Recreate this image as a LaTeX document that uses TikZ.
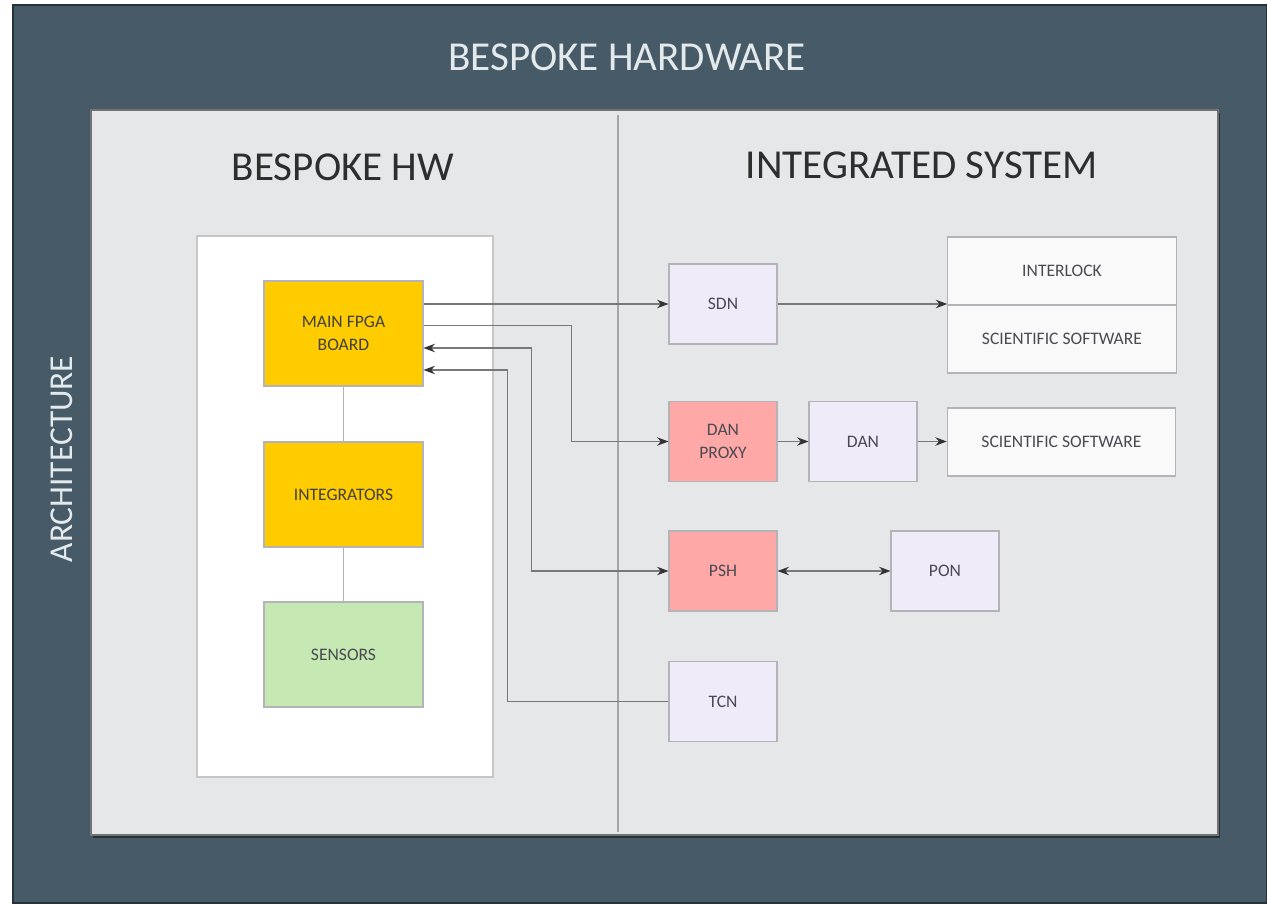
\documentclass[tikz,border=0pt]{standalone}
\usepackage{fontspec}
\setmainfont{Carlito}
\usetikzlibrary{arrows.meta,calc,positioning}

\definecolor{slate}{HTML}{465B67}
\definecolor{slatedark}{HTML}{26323A}
\definecolor{panel}{HTML}{E6E7E9}
\definecolor{titletext}{HTML}{E4E9EC}
\definecolor{headtext}{HTML}{2E2E2E}
\definecolor{boxline}{HTML}{B4B4B8}
\definecolor{boxtext}{HTML}{4A4A52}
\definecolor{fpgayellow}{HTML}{FFCC00}
\definecolor{sensgreen}{HTML}{C6E8B3}
\definecolor{netlilac}{HTML}{EFEBF9}
\definecolor{proxypink}{HTML}{FFA8A8}
\definecolor{swwhite}{HTML}{F9F9F9}
\definecolor{linegray}{HTML}{787878}

\begin{document}
\begin{tikzpicture}[x=0.02cm,y=-0.02cm,
  lbl/.style={font=\fontsize{10}{13}\selectfont,text=boxtext,align=center},
  hwbox/.style={lbl,draw=boxline,line width=0.6pt,minimum width=3.18cm,minimum height=2.1cm,inner sep=0pt},
  netbox/.style={lbl,draw=boxline,line width=0.6pt,minimum width=2.16cm,minimum height=1.6cm,inner sep=0pt,fill=netlilac},
  swbox/.style={lbl,draw=boxline,line width=0.6pt,minimum width=4.57cm,minimum height=1.36cm,inner sep=0pt,fill=swwhite},
  heading/.style={font=\fontsize{23.4}{28}\selectfont},
  conn/.style={draw=linegray,line width=0.7pt,>={Stealth[length=6.5pt,width=4.8pt,color=black!80]}}]
\useasboundingbox (0,0) rectangle (1267,905);

% Background
\fill[white] (0,0) rectangle (1267,905);
\draw[fill=slate,draw=slatedark,line width=1pt] (13,5) rectangle (1267,903);
\node[heading,text=titletext] (title) at (627,57) {BESPOKE HARDWARE};
\node[font=\fontsize{19}{22}\selectfont,text=titletext,rotate=90] (arch) at (62,459) {ARCHITECTURE};

% Panel with its shadow
\fill[slatedark] (93,113) rectangle (1220,838);
\draw[fill=panel,draw=black!55,line width=0.6pt] (91,110) rectangle (1218,835);
\draw[black!35,line width=0.7pt] (618,115) -- (618,832);
\node[heading,text=headtext] (bhw) at (343,167) {BESPOKE HW};
\node[heading,text=headtext] (isys) at (922,165) {INTEGRATED SYSTEM};

% Hardware side
\draw[fill=white,draw=black!22,line width=0.7pt] (197,236) rectangle (493,777);
\node[hwbox,fill=fpgayellow,text=black!75] (fpga) at (343.5,333.5) {MAIN FPGA\\BOARD};
\node[hwbox,fill=fpgayellow,text=black!75] (integ) at (343.5,494.5) {INTEGRATORS};
\node[hwbox,fill=sensgreen] (sens) at (343.5,654.5) {SENSORS};
\draw[black!30,line width=1pt] (fpga) -- (integ);
\draw[black!30,line width=1pt] (integ) -- (sens);

% Integrated system side
\node[netbox] (sdn) at (723,304) {SDN};
\node[netbox,fill=proxypink] (dproxy) at (723,441.5) {DAN\\PROXY};
\node[netbox] (dan) at (863,441.5) {DAN};
\node[netbox,fill=proxypink] (psh) at (723,571) {PSH};
\node[netbox] (pon) at (945,571) {PON};
\node[netbox] (tcn) at (723,701.5) {TCN};
\node[swbox] (ilock) at (1062,271) {INTERLOCK};
\node[swbox] (sci1) at (1062,339) {SCIENTIFIC SOFTWARE};
\node[swbox] (sci2) at (1061.5,442) {SCIENTIFIC SOFTWARE};

% Connectors
\draw[conn,->] (fpga.east |- sdn.west) -- (sdn.west);
\draw[conn,->] (sdn.east) -- (sdn.east -| ilock.west);
\draw[conn,->] ($(fpga.east)+(0,-8)$) -| ([xshift=-1.94cm]dproxy.west) -- (dproxy.west);
\draw[conn,->] (dproxy.east) -- (dan.west);
\draw[conn,->] (dan.east) -- (dan.east -| sci2.west);
\draw[conn,<->] ($(fpga.east)+(0,14.5)$) -| ([xshift=-2.74cm]psh.west) -- (psh.west);
\draw[conn,<->] (psh.east) -- (pon.west);
\draw[conn,->] (tcn.west) -- ([xshift=-3.22cm]tcn.west) |- ($(fpga.east)+(0,36.5)$);

\end{tikzpicture}
\end{document}
